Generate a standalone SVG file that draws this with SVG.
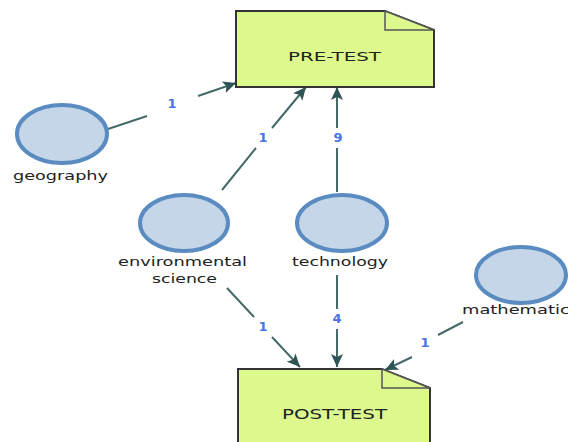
<svg xmlns="http://www.w3.org/2000/svg" width="568" height="442" viewBox="0 0 568 442">
<defs>
<style>
.doc{fill:#ddf98e;stroke:#333;stroke-width:2}
.fold{fill:#ddf98e;stroke:#555;stroke-width:1.5}
.ell{fill:#c5d6e8;stroke:#5a8cc2;stroke-width:4}
.nl{font-family:"DejaVu Sans",sans-serif;font-size:12px;fill:#222}
.dl{font-family:"DejaVu Sans",sans-serif;fill:#222}
.e{stroke:#456a6a;stroke-width:2;fill:none}
.el{font-family:"DejaVu Sans",sans-serif;font-size:13px;font-weight:bold;fill:#4a72e8;text-anchor:middle}
</style>
<marker id="ah" markerUnits="userSpaceOnUse" markerWidth="14" markerHeight="12" refX="13" refY="6" orient="auto">
<path d="M0,0 L13,6 L0,12 L3,6 z" fill="#2f5454"/>
</marker>
</defs>
<rect width="568" height="442" fill="#fff"/>
<g id="connectors">
<line class="e" x1="108" y1="129" x2="147" y2="116"/>
<line class="e" x1="198" y1="96" x2="236" y2="83" marker-end="url(#ah)"/>
<text class="el" x="172" y="108">1</text>
<line class="e" x1="222" y1="190" x2="256" y2="148"/>
<line class="e" x1="272" y1="128" x2="306" y2="87" marker-end="url(#ah)"/>
<text class="el" x="263" y="142">1</text>
<line class="e" x1="337" y1="192" x2="337" y2="148"/>
<line class="e" x1="337" y1="128" x2="337" y2="87" marker-end="url(#ah)"/>
<text class="el" x="338" y="142">9</text>
<line class="e" x1="227" y1="288" x2="254" y2="317"/>
<line class="e" x1="272" y1="337" x2="300" y2="367" marker-end="url(#ah)"/>
<text class="el" x="263" y="331">1</text>
<line class="e" x1="337" y1="275" x2="337" y2="309"/>
<line class="e" x1="337" y1="329" x2="337" y2="367" marker-end="url(#ah)"/>
<text class="el" x="337" y="323">4</text>
<line class="e" x1="463" y1="322" x2="438" y2="335"/>
<line class="e" x1="412" y1="357" x2="385" y2="370" marker-end="url(#ah)"/>
<text class="el" x="425" y="347">1</text>
</g>
<g id="pretest">
<path class="doc" d="M236,11 L385,11 L434,30 L434,87 L236,87 Z"/>
<path class="fold" d="M385,11 L385,30 L434,30 Z"/>
<text class="dl" x="288" y="61" font-size="13" textLength="93" lengthAdjust="spacingAndGlyphs">PRE-TEST</text>
</g>
<g id="posttest">
<path class="doc" d="M238,369 L382,369 L430,388 L430,452 L238,452 Z"/>
<path class="fold" d="M382,369 L382,388 L430,388 Z"/>
<text class="dl" x="282" y="419" font-size="14" textLength="105" lengthAdjust="spacingAndGlyphs">POST-TEST</text>
</g>
<g id="geography">
<ellipse class="ell" cx="62" cy="134" rx="45" ry="29"/>
<text class="nl" x="13" y="180" textLength="95" lengthAdjust="spacingAndGlyphs">geography</text>
</g>
<g id="environmental-science">
<ellipse class="ell" cx="184" cy="223" rx="44" ry="28"/>
<text class="nl" x="118" y="266" textLength="129" lengthAdjust="spacingAndGlyphs">environmental</text>
<text class="nl" x="152" y="283" textLength="65" lengthAdjust="spacingAndGlyphs">science</text>
</g>
<g id="technology">
<ellipse class="ell" cx="342" cy="223" rx="45" ry="28"/>
<text class="nl" x="292" y="266" textLength="96" lengthAdjust="spacingAndGlyphs">technology</text>
</g>
<g id="mathematics">
<ellipse class="ell" cx="521" cy="275" rx="45" ry="28"/>
<text class="nl" x="462" y="314" textLength="117" lengthAdjust="spacingAndGlyphs">mathematics</text>
</g>
</svg>
